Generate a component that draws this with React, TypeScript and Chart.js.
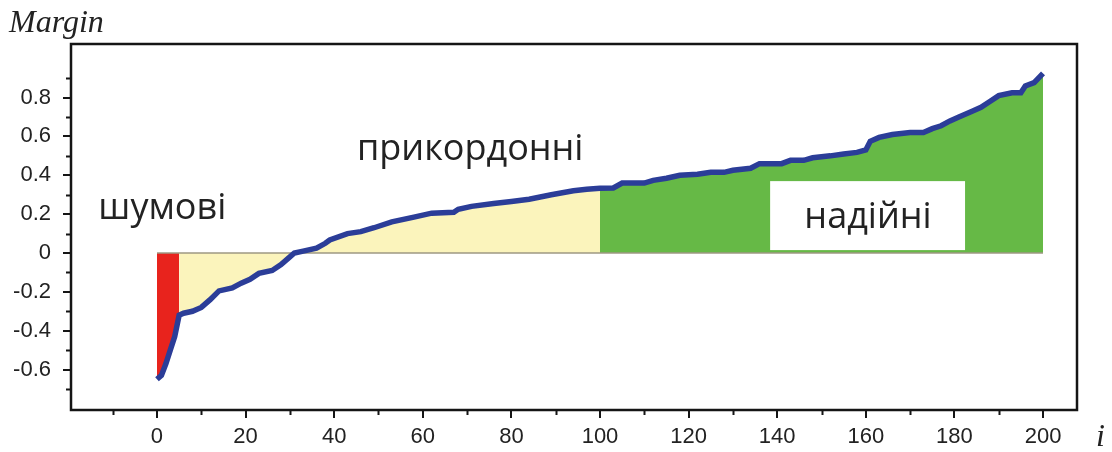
import React, { useEffect, useRef } from "react";
import { Chart, registerables } from "chart.js";

Chart.register(...registerables);

// Sample index i and the margin value at that index
const marginIdx = [
  0, 1, 2, 3, 4, 5, 6, 8, 10, 12, 14, 17, 19, 21, 23, 26, 28, 30, 31, 33, 36, 38, 39, 43, 46, 49,
  53, 58, 62, 67, 68, 71, 76, 80, 84, 89, 94, 97, 100, 103, 105, 110, 112, 115, 118, 122, 125,
  128, 130, 134, 136, 141, 143, 146, 148, 152, 155, 158, 160, 161, 163, 166, 170, 173, 175, 177,
  179, 181, 184, 186, 188, 190, 193, 195, 196, 198, 200,
];
const marginVal = [
  -0.65, -0.63, -0.57, -0.5, -0.43, -0.32, -0.31, -0.3, -0.28, -0.24, -0.195, -0.18, -0.155,
  -0.135, -0.105, -0.09, -0.06, -0.02, 0.0, 0.01, 0.025, 0.05, 0.067, 0.1, 0.11, 0.13, 0.16,
  0.185, 0.205, 0.21, 0.225, 0.24, 0.255, 0.265, 0.277, 0.3, 0.32, 0.328, 0.333, 0.335, 0.36,
  0.36, 0.374, 0.385, 0.4, 0.405, 0.415, 0.415, 0.426, 0.436, 0.46, 0.46, 0.477, 0.477, 0.49,
  0.5, 0.51, 0.518, 0.53, 0.575, 0.595, 0.61, 0.62, 0.62, 0.64, 0.655, 0.68, 0.7, 0.73, 0.75,
  0.78, 0.81, 0.825, 0.825, 0.86, 0.877, 0.925,
];

// Region boundaries (noise / borderline / reliable)
const noiseEnd = 5;
const borderEnd = 100;
const lastIdx = 200;

const xMajorTicks = [0, 20, 40, 60, 80, 100, 120, 140, 160, 180, 200];
const xMinorTicks = [-10, 10, 30, 50, 70, 90, 110, 130, 150, 170, 190];
const yMajorTicks = [-0.6, -0.4, -0.2, 0, 0.2, 0.4, 0.6, 0.8];
const yMinorTicks = [-0.7, -0.5, -0.3, -0.1, 0.1, 0.3, 0.5, 0.7, 0.9];

const regionLabels = ["шумові", "прикордонні", "надійні"];

const pts = marginIdx.map((x, k) => ({ x, y: marginVal[k] }));
const seg = (a: number, b: number) => pts.filter((p) => p.x >= a && p.x <= b);

const decor = {
  id: "decor",
  afterDraw(chart: any) {
    const { ctx, chartArea, scales } = chart;
    const { left, top, right, bottom } = chartArea;
    const xs = scales.x;
    const ys = scales.y;
    ctx.save();
    // frame
    ctx.strokeStyle = "#151515";
    ctx.lineWidth = 2.5;
    ctx.strokeRect(left, top, right - left, bottom - top);
    // minor ticks
    ctx.lineWidth = 2;
    ctx.beginPath();
    xMinorTicks.forEach((v) => {
      const px = Math.round(xs.getPixelForValue(v)) + 0.5;
      ctx.moveTo(px, bottom);
      ctx.lineTo(px, bottom + 5);
    });
    yMinorTicks.forEach((v) => {
      const py = Math.round(ys.getPixelForValue(v)) + 0.5;
      ctx.moveTo(left - 5, py);
      ctx.lineTo(left, py);
    });
    ctx.stroke();

    // region labels
    ctx.font = '36px "Open Sans"';
    ctx.textAlign = "center";
    ctx.textBaseline = "middle";
    ctx.fillStyle = "#222";
    ctx.fillText(regionLabels[0], xs.getPixelForValue(1.2), ys.getPixelForValue(0.23));
    ctx.fillText(regionLabels[1], xs.getPixelForValue(70.7), ys.getPixelForValue(0.53));
    const bx1 = xs.getPixelForValue(138.4);
    const bx2 = xs.getPixelForValue(182.4);
    const by1 = ys.getPixelForValue(0.37);
    const by2 = ys.getPixelForValue(0.015);
    ctx.fillStyle = "#ffffff";
    ctx.fillRect(bx1, by1, bx2 - bx1, by2 - by1);
    ctx.fillStyle = "#222";
    ctx.fillText(regionLabels[2], xs.getPixelForValue(160.5), ys.getPixelForValue(0.18));

    // axis titles
    ctx.font = 'italic 32px "Liberation Serif"';
    ctx.textAlign = "left";
    ctx.textBaseline = "alphabetic";
    ctx.fillStyle = "#222";
    ctx.fillText("Margin", 9, 32);
    ctx.fillText("i", 1096, 446);
    ctx.restore();
  },
};

export default function App() {
  const ref = useRef<HTMLCanvasElement>(null);
  useEffect(() => {
    if (!ref.current) return;
    const chart = new Chart(ref.current, {
      type: "line",
      data: {
        datasets: [
          {
            data: pts,
            borderColor: "#2b3d98",
            borderWidth: 5.5,
            pointRadius: 0,
            fill: false,
            tension: 0,
            order: 0,
          },
          {
            data: [
              { x: 0, y: 0 },
              { x: lastIdx, y: 0 },
            ],
            borderColor: "#9e9983",
            borderWidth: 1.5,
            pointRadius: 0,
            fill: false,
            order: 1,
          },
          {
            data: seg(0, noiseEnd),
            borderWidth: 0,
            borderColor: "rgba(0,0,0,0)",
            backgroundColor: "#e8231d",
            pointRadius: 0,
            fill: "origin",
            order: 2,
          },
          {
            data: seg(noiseEnd, borderEnd),
            borderWidth: 0,
            borderColor: "rgba(0,0,0,0)",
            backgroundColor: "#fbf4bc",
            pointRadius: 0,
            fill: "origin",
            order: 2,
          },
          {
            data: seg(borderEnd, lastIdx),
            borderWidth: 0,
            borderColor: "rgba(0,0,0,0)",
            backgroundColor: "#66b946",
            pointRadius: 0,
            fill: "origin",
            order: 2,
          },
        ],
      },
      options: {
        animation: false,
        responsive: false,
        parsing: false as any,
        layout: { padding: { left: 0, top: 44, right: 35, bottom: 0 } },
        plugins: { legend: { display: false }, tooltip: { enabled: false } },
        scales: {
          x: {
            type: "linear",
            min: -19.41,
            max: 207.67,
            border: { display: false },
            grid: {
              drawOnChartArea: false,
              drawTicks: true,
              tickLength: 8,
              color: "#151515",
              lineWidth: 2,
            },
            afterBuildTicks: (axis: any) => {
              axis.ticks = xMajorTicks.map((v) => ({ value: v }));
            },
            afterFit: (scale: any) => {
              scale.height = 42;
            },
            ticks: {
              padding: 6,
              color: "#222",
              font: { family: '"Liberation Sans", Arial', size: 22 },
              callback: (v: any) => String(v),
            },
          },
          y: {
            type: "linear",
            min: -0.808,
            max: 1.0757,
            border: { display: false },
            grid: {
              drawOnChartArea: false,
              drawTicks: true,
              tickLength: 8,
              color: "#151515",
              lineWidth: 2,
            },
            afterBuildTicks: (axis: any) => {
              axis.ticks = yMajorTicks.map((v) => ({ value: v }));
            },
            afterFit: (scale: any) => {
              scale.width = 71;
            },
            ticks: {
              padding: 12,
              color: "#222",
              font: { family: '"Liberation Sans", Arial', size: 22 },
              callback: (v: any) => String(Math.round(Number(v) * 10) / 10),
            },
          },
        },
      },
      plugins: [decor],
    });
    return () => chart.destroy();
  }, []);
  return (
    <div style={{ position: "absolute", left: 0, top: 0, width: 1112, height: 452, background: "#fff" }}>
      <canvas ref={ref} width={1112} height={452} />
    </div>
  );
}
